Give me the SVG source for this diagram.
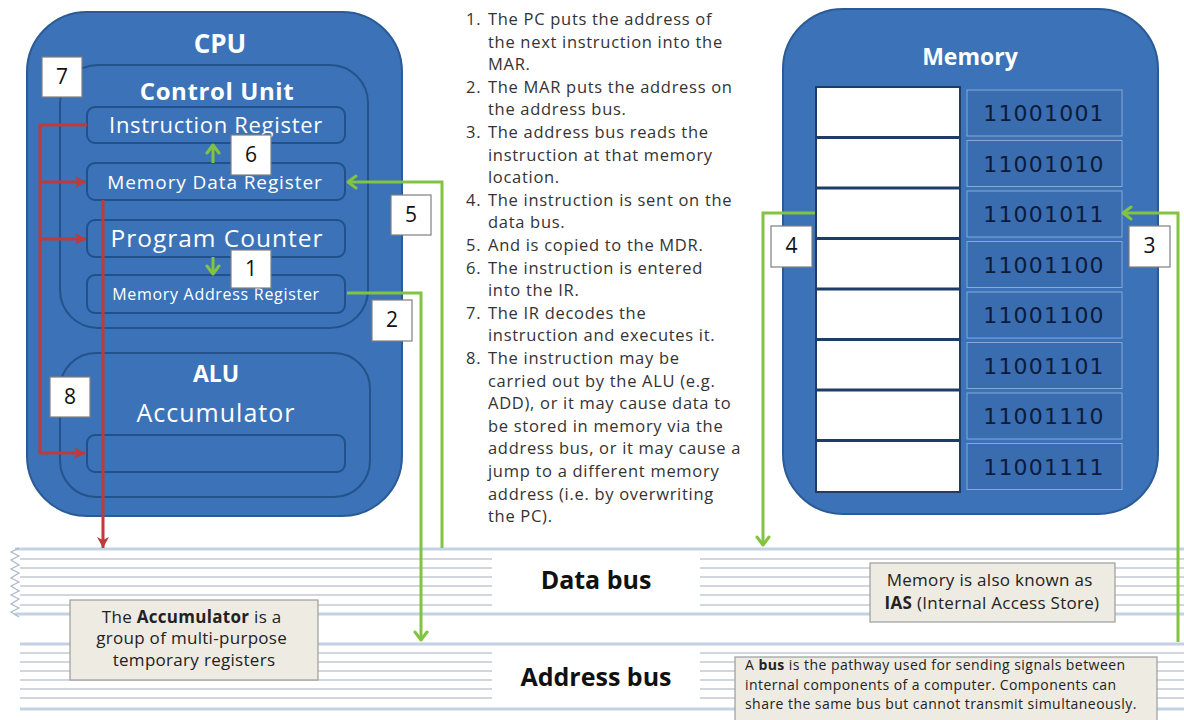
<svg xmlns="http://www.w3.org/2000/svg" width="1184" height="720" viewBox="0 0 1184 720">
  <defs>
    <style>
      text{font-family:"Open Sans","Liberation Sans",sans-serif}
      .box{fill:#3B72B8;stroke:#2B5B95;stroke-width:2}
      .unit{fill:#3B72B8;stroke:#24528B;stroke-width:2}
      .reg{fill:#3B72B8;stroke:#21508A;stroke-width:2}
      .wt{fill:#fff;text-anchor:middle}
      .bold{font-weight:bold}
      .tag rect{fill:#fff;stroke:#7F7F7F;stroke-width:1.2}
      .tag text{font-size:21px;text-anchor:middle;fill:#111}
      .g{stroke:#82C341;stroke-width:3;fill:none}
      .r{stroke:#BE3B3B;stroke-width:3;fill:none}
      .rail{stroke:#C3D2E3;stroke-width:3}
      .stripe{stroke:#A6B0BC;stroke-width:1.2}
      .note{fill:#EEEBE2;stroke:#9C9C9C;stroke-width:1.2}
      .cell{fill:#3A6DB0;stroke:#86A9D8;stroke-width:1}
      .val{font-family:"DejaVu Sans","Open Sans",sans-serif;font-size:22px;fill:#0D1B3A;text-anchor:middle;letter-spacing:1.2px}
      .list{font-size:16.5px;fill:#333;letter-spacing:0.7px}
    </style>
    <marker id="ga" viewBox="-2 -8 12 16" refX="8" refY="0" markerWidth="12" markerHeight="16" markerUnits="userSpaceOnUse" orient="auto">
      <path d="M0,-6 L8,0 L0,6" fill="none" stroke="#82C341" stroke-width="3" stroke-linecap="round" stroke-linejoin="round"/>
    </marker>
    <marker id="ra" viewBox="0 -7 12 14" refX="11" refY="0" markerWidth="12" markerHeight="14" markerUnits="userSpaceOnUse" orient="auto">
      <path d="M0,-6 L11,0 L0,6 L3,0 Z" fill="#BE3B3B"/>
    </marker>
  </defs>

  <rect width="1184" height="720" fill="#fff"/>

  <!-- Buses -->
  <g id="data-bus">
    <line class="rail" x1="15" y1="549" x2="1184" y2="549"/>
    <g class="stripe">
      <path d="M20,559H492M20,568H492M20,577H492M20,586H492M20,595H492M20,605H492"/>
      <path d="M700,559H1184M700,568H1184M700,577H1184M700,586H1184M700,595H1184M700,605H1184"/>
    </g>
    <line class="rail" x1="15" y1="614" x2="1184" y2="614"/>
    <polyline points="19,548 11,552 19,556 11,560 19,565 11,569 19,573 11,578 19,582 11,586 19,591 11,595 19,599 11,604 19,608 11,612 19,617" fill="none" stroke="#A8B8CC" stroke-width="1.2"/>
    <text x="596" y="589" class="bold" font-size="25" text-anchor="middle" fill="#111">Data bus</text>
  </g>
  <g id="address-bus">
    <line class="rail" x1="20" y1="644" x2="1184" y2="644"/>
    <g class="stripe">
      <path d="M20,653H492M20,662H492M20,671H492M20,680H492M20,689H492M20,698H492"/>
      <path d="M700,653H1184M700,662H1184M700,671H1184M700,680H1184M700,689H1184M700,698H1184"/>
    </g>
    <line class="rail" x1="20" y1="709" x2="1184" y2="709"/>
    <text x="596" y="686" class="bold" font-size="25" text-anchor="middle" fill="#111">Address bus</text>
  </g>

  <!-- CPU -->
  <g id="cpu">
    <rect class="box" x="27" y="12" width="375" height="504" rx="60"/>
    <text x="220" y="53" class="wt bold" font-size="26">CPU</text>
  </g>
  <g id="control-unit">
    <rect class="unit" x="60" y="65" width="308" height="263" rx="38"/>
    <text x="217" y="100" class="wt bold" font-size="24" letter-spacing="0.6">Control Unit</text>
  </g>
  <g id="instruction-register">
    <rect class="reg" x="87" y="107" width="258" height="36" rx="8"/>
    <text x="216" y="133" class="wt" font-size="22" letter-spacing="0.7">Instruction Register</text>
  </g>
  <g id="memory-data-register">
    <rect class="reg" x="87" y="163" width="258" height="37" rx="8"/>
    <text x="215" y="189" class="wt" font-size="19" letter-spacing="0.9">Memory Data Register</text>
  </g>
  <g id="program-counter">
    <rect class="reg" x="87" y="220" width="258" height="37" rx="8"/>
    <text x="217" y="247" class="wt" font-size="24.5" letter-spacing="1">Program Counter</text>
  </g>
  <g id="memory-address-register">
    <rect class="reg" x="87" y="275" width="258" height="38" rx="8"/>
    <text x="216" y="300" class="wt" font-size="16" letter-spacing="0.7">Memory Address Register</text>
  </g>
  <g id="alu">
    <rect class="unit" x="60" y="353" width="310" height="144" rx="36"/>
    <text x="216" y="382" class="wt bold" font-size="23">ALU</text>
    <text x="216" y="422" class="wt" font-size="25" letter-spacing="1">Accumulator</text>
  </g>
  <g id="accumulator">
    <rect class="reg" x="87" y="435" width="258" height="37" rx="8"/>
  </g>

  <!-- Memory -->
  <g id="memory">
    <rect class="box" x="783" y="9" width="375" height="505" rx="60"/>
    <text x="970" y="65" class="wt bold" font-size="23">Memory</text>
    <rect x="816" y="87" width="144" height="405" fill="#fff" stroke="#1F3C66" stroke-width="2"/>
    <path d="M816,137.5H960M816,188H960M816,238.5H960M816,289H960M816,339.5H960M816,390H960M816,440.5H960" stroke="#1F3C66" stroke-width="3"/>
  </g>
  <g id="memory-cells">
    <rect class="cell" x="967" y="90" width="155" height="46"/>
    <rect class="cell" x="967" y="140.5" width="155" height="46"/>
    <rect class="cell" x="967" y="191" width="155" height="46"/>
    <rect class="cell" x="967" y="241.5" width="155" height="46"/>
    <rect class="cell" x="967" y="292" width="155" height="46"/>
    <rect class="cell" x="967" y="342.5" width="155" height="46"/>
    <rect class="cell" x="967" y="393" width="155" height="46"/>
    <rect class="cell" x="967" y="443.5" width="155" height="46"/>
    <text class="val" x="1044" y="121">11001001</text>
    <text class="val" x="1044" y="171.5">11001010</text>
    <text class="val" x="1044" y="222">11001011</text>
    <text class="val" x="1044" y="272.5">11001100</text>
    <text class="val" x="1044" y="323">11001100</text>
    <text class="val" x="1044" y="373.5">11001101</text>
    <text class="val" x="1044" y="424">11001110</text>
    <text class="val" x="1044" y="474.5">11001111</text>
  </g>

  <!-- Connectors -->
  <g id="connectors">
    <!-- IR decodes and dispatches -->
    <polyline class="r" points="87,125 40,125 40,453 85,453" marker-end="url(#ra)"/>
    <line class="r" x1="40" y1="182" x2="86" y2="182" marker-end="url(#ra)"/>
    <line class="r" x1="40" y1="239" x2="86" y2="239" marker-end="url(#ra)"/>
    <line class="r" x1="103" y1="200" x2="103" y2="548" marker-end="url(#ra)"/>
    <!-- MDR to IR, PC to MAR -->
    <line class="g" x1="213" y1="163" x2="213" y2="145" marker-end="url(#ga)"/>
    <line class="g" x1="213" y1="257" x2="213" y2="274" marker-end="url(#ga)"/>
    <!-- data bus to MDR -->
    <polyline class="g" points="442,548 442,182 348,182" marker-end="url(#ga)"/>
    <!-- MAR to address bus -->
    <polyline class="g" points="347,293 421,293 421,640" marker-end="url(#ga)"/>
    <!-- address bus to memory location -->
    <polyline class="g" points="1178,642 1178,213 1123,213" marker-end="url(#ga)"/>
    <!-- memory location to data bus -->
    <polyline class="g" points="815,213 763,213 763,545" marker-end="url(#ga)"/>
  </g>

  <!-- Step tags -->
  <g id="tag-7" class="tag"><rect x="42" y="57" width="40" height="40"/><text x="62" y="84">7</text></g>
  <g id="tag-6" class="tag"><rect x="231" y="135" width="40" height="40"/><text x="251" y="162">6</text></g>
  <g id="tag-1" class="tag"><rect x="231" y="250" width="40" height="38"/><text x="251" y="276">1</text></g>
  <g id="tag-5" class="tag"><rect x="391" y="195" width="40" height="40"/><text x="411" y="222">5</text></g>
  <g id="tag-2" class="tag"><rect x="372" y="300" width="40" height="41"/><text x="392" y="327">2</text></g>
  <g id="tag-8" class="tag"><rect x="50" y="377" width="40" height="40"/><text x="70" y="404">8</text></g>
  <g id="tag-4" class="tag"><rect x="771" y="226" width="41" height="41"/><text x="791.5" y="253">4</text></g>
  <g id="tag-3" class="tag"><rect x="1129" y="226" width="41" height="41"/><text x="1149.5" y="253">3</text></g>

  <!-- Steps of the fetch-execute cycle -->
  <g id="steps">
    <text class="list">
      <tspan x="466" y="25">1.</tspan><tspan x="488" y="25">The PC puts the address of</tspan>
      <tspan x="488" y="47.6">the next instruction into the</tspan>
      <tspan x="488" y="70.2">MAR.</tspan>
      <tspan x="466" y="92.8">2.</tspan><tspan x="488" y="92.8">The MAR puts the address on</tspan>
      <tspan x="488" y="115.4">the address bus.</tspan>
      <tspan x="466" y="138">3.</tspan><tspan x="488" y="138">The address bus reads the</tspan>
      <tspan x="488" y="160.6">instruction at that memory</tspan>
      <tspan x="488" y="183.2">location.</tspan>
      <tspan x="466" y="205.8">4.</tspan><tspan x="488" y="205.8">The instruction is sent on the</tspan>
      <tspan x="488" y="228.4">data bus.</tspan>
      <tspan x="466" y="251">5.</tspan><tspan x="488" y="251">And is copied to the MDR.</tspan>
      <tspan x="466" y="273.6">6.</tspan><tspan x="488" y="273.6">The instruction is entered</tspan>
      <tspan x="488" y="296.2">into the IR.</tspan>
      <tspan x="466" y="318.8">7.</tspan><tspan x="488" y="318.8">The IR decodes the</tspan>
      <tspan x="488" y="341.4">instruction and executes it.</tspan>
      <tspan x="466" y="364">8.</tspan><tspan x="488" y="364">The instruction may be</tspan>
      <tspan x="488" y="386.6">carried out by the ALU (e.g.</tspan>
      <tspan x="488" y="409.2">ADD), or it may cause data to</tspan>
      <tspan x="488" y="431.8">be stored in memory via the</tspan>
      <tspan x="488" y="454.4">address bus, or it may cause a</tspan>
      <tspan x="488" y="477">jump to a different memory</tspan>
      <tspan x="488" y="499.6">address (i.e. by overwriting</tspan>
      <tspan x="488" y="522.2">the PC).</tspan>
    </text>
  </g>

  <!-- Notes -->
  <g id="note-accumulator">
    <rect class="note" x="70" y="600" width="248" height="80"/>
    <text font-size="17" letter-spacing="0.3" fill="#222" text-anchor="middle">
      <tspan x="194" y="623">The <tspan font-weight="bold">Accumulator</tspan> is a</tspan>
      <tspan x="194" y="644">group of multi-purpose</tspan>
      <tspan x="194" y="666">temporary registers</tspan>
    </text>
  </g>
  <g id="note-memory">
    <rect class="note" x="870" y="563" width="245" height="59"/>
    <text font-size="17" letter-spacing="0.3" fill="#222" text-anchor="middle">
      <tspan x="992" y="586">Memory is also known as</tspan>
      <tspan x="992" y="609"><tspan font-weight="bold">IAS</tspan> (Internal Access Store)</tspan>
    </text>
  </g>
  <g id="note-bus">
    <rect class="note" x="735" y="657" width="422" height="66"/>
    <text font-size="14" letter-spacing="0.45" fill="#222">
      <tspan x="745" y="670">A <tspan font-weight="bold">bus</tspan> is the pathway used for sending signals between</tspan>
      <tspan x="745" y="690">internal components of a computer. Components can</tspan>
      <tspan x="745" y="709">share the same bus but cannot transmit simultaneously.</tspan>
    </text>
  </g>
</svg>
